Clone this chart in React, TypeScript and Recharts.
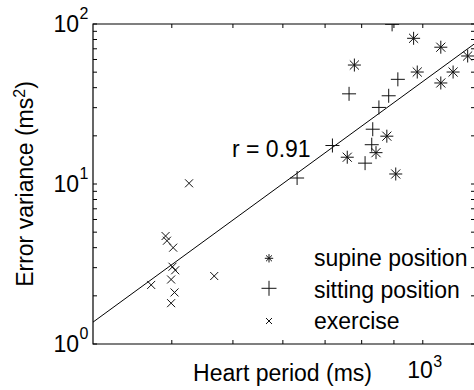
import { ScatterChart, Scatter, XAxis, YAxis, ReferenceArea } from 'recharts';

// heart period (ms) vs error variance (ms^2)
const supineX = [967, 1068, 779, 980, 1117, 1068, 1178, 877, 759, 843, 906];
const supineY = [81.4, 71.6, 55.4, 50.1, 50.1, 42.8, 63.1, 19.9, 14.7, 15.7, 11.55];

const sittingX = [894, 764, 913, 883, 852, 833, 830, 810, 719, 632];
const sittingY = [99.5, 36.6, 45.1, 35.6, 30.1, 22.0, 17.6, 13.5, 17.4, 10.9];

const exerciseX = [426, 391, 393, 402, 401, 405, 399, 371, 467, 404, 399];
const exerciseY = [10.1, 4.73, 4.42, 4.0, 3.04, 2.89, 2.53, 2.34, 2.66, 2.1, 1.8];

// regression line end points
const fitX = [300, 1210];
const fitY = [1.37, 75.6];

const xTicks = [400, 500, 600, 700, 800, 900, 1000];
const yTicks = [1, 2, 3, 4, 5, 6, 7, 8, 9, 10, 20, 30, 40, 50, 60, 70, 80, 90, 100];
const xMajor = [1000];
const yMajor = [1, 10, 100];

const toPoints = (xs: number[], ys: number[]) => xs.map((x, i) => ({ x, y: ys[i] }));

const supine = toPoints(supineX, supineY);
const sitting = toPoints(sittingX, sittingY);
const exercise = toPoints(exerciseX, exerciseY);
const fitLine = toPoints(fitX, fitY);

const FONT = '"Liberation Sans", Arial, Helvetica, sans-serif';
const INK = '#111';
const PLOT = { left: 93, top: 24, right: 475, bottom: 344 };
const TICK = 4;

function Asterisk({ cx, cy, r = 6.5 }: any) {
    const d = r * 0.7;
    return (
        <g stroke={INK} strokeWidth={1}>
            <line x1={cx - r} y1={cy} x2={cx + r} y2={cy} />
            <line x1={cx} y1={cy - r} x2={cx} y2={cy + r} />
            <line x1={cx - d} y1={cy - d} x2={cx + d} y2={cy + d} />
            <line x1={cx - d} y1={cy + d} x2={cx + d} y2={cy - d} />
        </g>
    );
}

function Plus({ cx, cy, r = 7 }: any) {
    return (
        <g stroke={INK} strokeWidth={1}>
            <line x1={cx - r} y1={cy} x2={cx + r} y2={cy} />
            <line x1={cx} y1={cy - r} x2={cx} y2={cy + r} />
        </g>
    );
}

function Cross({ cx, cy, r = 4 }: any) {
    return (
        <g stroke={INK} strokeWidth={1}>
            <line x1={cx - r} y1={cy - r} x2={cx + r} y2={cy + r} />
            <line x1={cx - r} y1={cy + r} x2={cx + r} y2={cy - r} />
        </g>
    );
}

function XTick({ x, payload }: any) {
    const major = xMajor.includes(payload.value);
    return (
        <g>
            <line x1={x} x2={x} y1={PLOT.bottom} y2={PLOT.bottom - TICK} stroke="#000" />
            <line x1={x} x2={x} y1={PLOT.top} y2={PLOT.top + TICK} stroke="#000" />
            {major && (
                <text fontFamily={FONT} fill="#000">
                    <tspan x={x + 10} y={378} fontSize={23} textAnchor="end">10</tspan>
                    <tspan x={x + 10.5} y={367} fontSize={16}>{Math.round(Math.log10(payload.value))}</tspan>
                </text>
            )}
        </g>
    );
}

function YTick({ y, payload }: any) {
    const major = yMajor.includes(payload.value);
    return (
        <g>
            <line x1={PLOT.left} x2={PLOT.left + TICK} y1={y} y2={y} stroke="#000" />
            <line x1={PLOT.right} x2={PLOT.right - TICK} y1={y} y2={y} stroke="#000" />
            {major && (
                <text fontFamily={FONT} fill="#000">
                    <tspan x={79} y={y + 7.7} fontSize={23} textAnchor="end">10</tspan>
                    <tspan x={79.5} y={y - 5} fontSize={16}>{Math.round(Math.log10(payload.value))}</tspan>
                </text>
            )}
        </g>
    );
}

const legendRows = [
    { label: 'supine position', Marker: Asterisk, r: 4.2, cy: 258.3, base: 266 },
    { label: 'sitting position', Marker: Plus, r: 7.5, cy: 288.3, base: 297.5 },
    { label: 'exercise', Marker: Cross, r: 3, cy: 321, base: 329 },
];

export default function App() {
    return (
        <div style={{ position: 'fixed', left: 0, top: 0, width: 474, height: 390, overflow: 'hidden', background: '#fff' }}>
            <ScatterChart
                width={480}
                height={390}
                margin={{ top: PLOT.top, right: 480 - PLOT.right, bottom: 390 - PLOT.bottom - 40, left: PLOT.left - 60 }}
                style={{ fontFamily: FONT }}
            >
                <XAxis
                    type="number" dataKey="x" scale="log" domain={[300, 1210]} allowDataOverflow
                    ticks={xTicks} interval={0} tick={<XTick />} tickLine={false} axisLine={false} height={40}
                />
                <YAxis
                    type="number" dataKey="y" scale="log" domain={[1, 100]} allowDataOverflow
                    ticks={yTicks} interval={0} tick={<YTick />} tickLine={false} axisLine={false} width={60}
                />
                <ReferenceArea x1={300} x2={1210} y1={1} y2={100} fill="none" stroke="#000" strokeWidth={1.2} />
                <Scatter data={fitLine} line={{ stroke: '#000', strokeWidth: 1 }} shape={() => <g />} isAnimationActive={false} />
                <Scatter data={supine} shape={(p: any) => <Asterisk cx={p.cx} cy={p.cy} />} isAnimationActive={false} />
                <Scatter data={sitting} shape={(p: any) => <Plus cx={p.cx} cy={p.cy} />} isAnimationActive={false} />
                <Scatter data={exercise} shape={(p: any) => <Cross cx={p.cx} cy={p.cy} />} isAnimationActive={false} />

                <text x={232} y={157} fontSize={23} fontFamily={FONT} fill="#000">r = 0.91</text>
                <text x={282.5} y={381} fontSize={23} fontFamily={FONT} fill="#000" textAnchor="middle">Heart period (ms)</text>
                <text transform="rotate(-90)" x={-184} y={33} fontSize={23} fontFamily={FONT} fill="#000" textAnchor="middle">
                    Error variance (ms<tspan dy={-8} fontSize={16}>2</tspan><tspan dy={8}>)</tspan>
                </text>
                {legendRows.map(({ label, Marker, r, cy, base }) => (
                    <g key={label}>
                        <Marker cx={269} cy={cy} r={r} />
                        <text x={314} y={base} fontSize={23} fontFamily={FONT} fill="#000">{label}</text>
                    </g>
                ))}
            </ScatterChart>
        </div>
    );
}
